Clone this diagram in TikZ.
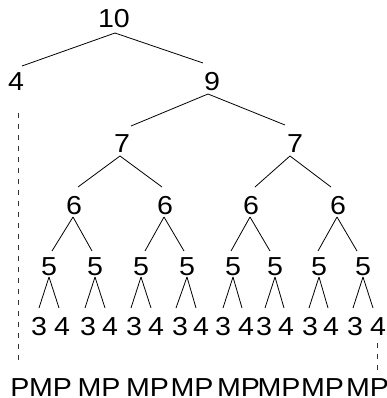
\documentclass[tikz,border=0pt]{standalone}
\usepackage{fontspec}
\setmainfont{Liberation Sans}[FakeStretch=1.1]
\begin{document}
\begin{tikzpicture}[x=1pt,y=-1pt,
  lab/.style={anchor=base,inner sep=0pt,font=\fontsize{26}{30}\selectfont},
  edge/.style={line width=0.8pt},
  dashline/.style={line width=0.8pt,dash pattern=on 5pt off 6pt,black!80}]
\useasboundingbox (0,0) rectangle (386,398);
% nodes
\node[lab] (n10) at (114,28) {10};
\node[lab] (n4) at (16,91) {4};
\node[lab] (n9) at (212,91) {9};
\node[lab] (n7a) at (122,153) {7};
\node[lab] (n7b) at (295,153) {7};
\foreach \x [count=\i] in {74,165,251,338}
  \node[lab] (s\i) at (\x,214) {6};
\foreach \x [count=\i] in {49,95,141,187,233,275,319,363}
  \node[lab] (f\i) at (\x,275) {5};
\foreach \x/\t [count=\i] in {39/3,62/4,88/3,110/4,134/3,156/4,180/3,201/4,223/3,246/4,264/3,286/4,310/3,331/4,355/3,378/4}
  \node[lab] (l\i) at (\x,335) {\t};
\node[lab] (p0) at (20,396) {P};
\foreach \x [count=\i] in {50.5,99,147.5,192,238.5,279,322.5,367.5}
  \node[lab] (m\i) at (\x,396) {MP};
% connectors
\draw[edge] ([shift={(1,5)}]n10.base) -- ([shift={(6,-25)}]n4.base);
\draw[edge] ([shift={(1,5)}]n10.base) -- ([shift={(-9,-28)}]n9.base);
\draw[edge] ([shift={(-4,3)}]n9.base) -- ([shift={(9,-27)}]n7a.base);
\draw[edge] ([shift={(-4,3)}]n9.base) -- ([shift={(-10,-28)}]n7b.base);
\draw[edge] ([shift={(-2,3)}]n7a.base) -- ([shift={(4,-27)}]s1.base);
\draw[edge] ([shift={(-2,3)}]n7a.base) -- ([shift={(-3,-27)}]s2.base);
\draw[edge] ([shift={(-5,3)}]n7b.base) -- ([shift={(4,-27)}]s3.base);
\draw[edge] ([shift={(-5,3)}]n7b.base) -- ([shift={(-7,-27)}]s4.base);
\foreach \p/\c/\d in {s1/f1/3,s1/f2/-3,s2/f3/4,s2/f4/-3,s3/f5/-2,s3/f6/-5,s4/f7/-1,s4/f8/-6}
  \draw[edge] ([shift={(-1,3)}]\p.base) -- ([shift={(\d,-24)}]\c.base);
\foreach \p/\c/\d in {f1/l1/0,f1/l2/-3,f2/l3/-3,f2/l4/-5,f3/l5/-3,f3/l6/-5,f4/l7/-4,f4/l8/-5,f5/l9/0,f5/l10/-4,f6/l11/1,f6/l12/-2,f7/l13/-1,f7/l14/-3,f8/l15/-2,f8/l16/-5}
  \draw[edge] ([shift={(0,2)}]\p.base) -- ([shift={(\d,-27)}]\c.base);
% dashed connectors
\draw[dashline] ([shift={(2,22)}]n4.base) -- ([shift={(-2,-33)}]p0.base);
\draw[dashline] ([shift={(-1,8)}]l16.base) -- ([shift={(9.5,-26)}]m8.base);
\end{tikzpicture}
\end{document}
